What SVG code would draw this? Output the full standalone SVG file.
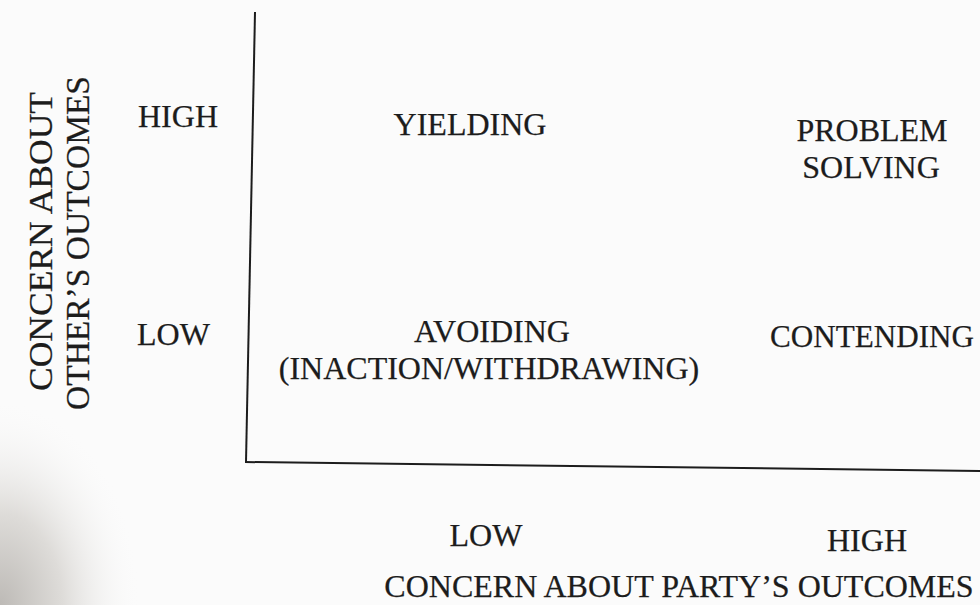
<svg xmlns="http://www.w3.org/2000/svg" width="980" height="605" viewBox="0 0 980 605">
<defs>
<radialGradient id="shade" cx="0" cy="1" r="1">
<stop offset="0" stop-color="#bdbab6"/>
<stop offset="0.45" stop-color="#dedcd9"/>
<stop offset="1" stop-color="#fbfbfb" stop-opacity="0"/>
</radialGradient>
</defs>
<style>
text{font-family:"Liberation Serif","Times New Roman",serif;font-size:32px;fill:#1c1c1c;stroke:#1c1c1c;stroke-width:0.25}
.c{text-anchor:middle}
.ax{stroke:#1c1c1c;stroke-width:2;fill:none}
</style>
<rect width="980" height="605" fill="#fbfbfb"/>
<rect x="0" y="400" width="140" height="205" fill="url(#shade)"/>
<g id="axes">
<path class="ax" d="M255,12 L246,462"/>
<path class="ax" d="M245,462 L980,471"/>
</g>
<g id="y-axis-label">
<text transform="translate(52,391) rotate(-90)" style="font-size:33px" textLength="299" lengthAdjust="spacingAndGlyphs">CONCERN ABOUT</text>
<text transform="translate(89,410) rotate(-90)" style="font-size:33px" textLength="334" lengthAdjust="spacingAndGlyphs">OTHER’S OUTCOMES</text>
</g>
<g id="y-high"><text x="138" y="127">HIGH</text></g>
<g id="y-low"><text x="137" y="345">LOW</text></g>
<g id="yielding"><text class="c" x="470" y="135">YIELDING</text></g>
<g id="problem-solving">
<text class="c" x="872" y="141">PROBLEM</text>
<text class="c" x="871" y="178">SOLVING</text>
</g>
<g id="avoiding">
<text class="c" x="492" y="342">AVOIDING</text>
<text class="c" x="489" y="379">(INACTION/WITHDRAWING)</text>
</g>
<g id="contending"><text class="c" x="872" y="347" textLength="204" lengthAdjust="spacingAndGlyphs">CONTENDING</text></g>
<g id="x-low"><text class="c" x="486" y="546">LOW</text></g>
<g id="x-high"><text class="c" x="867" y="551">HIGH</text></g>
<g id="x-axis-label"><text class="c" x="679" y="597">CONCERN ABOUT PARTY’S OUTCOMES</text></g>
</svg>
